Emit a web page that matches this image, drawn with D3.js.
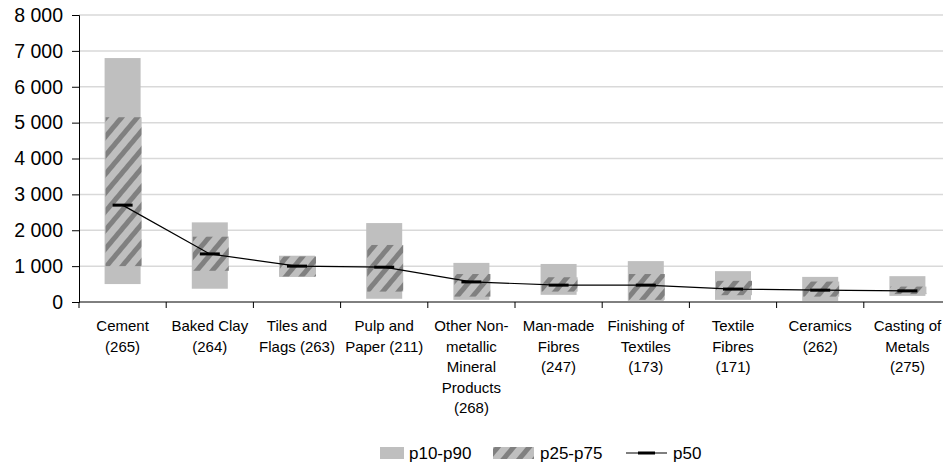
<!DOCTYPE html>
<html>
<head>
  <meta charset='utf-8'/>
  <style>
body { margin: 0; background: #fff; }
text { font-family: "Liberation Sans", Arial, sans-serif; fill: #000; }
.grid line { stroke: #d9d9d9; stroke-width: 1.5px; }
.axis path, .axis line { stroke: #000; }
  </style>
  <script src="https://d3js.org/d3.v7.min.js"></script>
</head>
<body>
<svg width="943" height="468"></svg>
<script>

// category labels, one entry per wrapped line
var categories = [
  ["Cement", "(265)"],
  ["Baked Clay", "(264)"],
  ["Tiles and", "Flags (263)"],
  ["Pulp and", "Paper (211)"],
  ["Other Non-", "metallic", "Mineral", "Products", "(268)"],
  ["Man-made", "Fibres", "(247)"],
  ["Finishing of", "Textiles", "(173)"],
  ["Textile", "Fibres", "(171)"],
  ["Ceramics", "(262)"],
  ["Casting of", "Metals", "(275)"]
];
var p10 = [500, 370, 700, 90, 60, 200, 30, 60, 30, 170];
var p25 = [1000, 870, 710, 290, 150, 290, 60, 190, 150, 220];
var p50 = [2700, 1340, 1000, 970, 560, 470, 470, 360, 330, 310];
var p75 = [5150, 1820, 1270, 1590, 780, 690, 780, 590, 570, 430];
var p90 = [6800, 2220, 1290, 2200, 1090, 1060, 1140, 860, 700, 720];
var yTicks = [0, 1000, 2000, 3000, 4000, 5000, 6000, 7000, 8000];

var svg = d3.select("svg"),
    margin = {top: 15, left: 79, bottom: 166},
    bandW = 87.2,
    width = bandW * categories.length,
    height = 468 - margin.top - margin.bottom,
    g = svg.append("g").attr("transform", "translate(" + margin.left + "," + margin.top + ")");

var light = "#bfbfbf", dark = "#808080";

var defs = svg.append("defs");
var pat = defs.append("pattern")
    .attr("id", "hatch")
    .attr("patternUnits", "userSpaceOnUse")
    .attr("width", 12).attr("height", 12)
    .attr("patternTransform", "rotate(40)");
pat.append("rect").attr("width", 12).attr("height", 12).attr("fill", light);
pat.append("rect").attr("width", 5).attr("height", 12).attr("fill", dark);

var idx = d3.range(categories.length);

var x = d3.scaleBand()
    .domain(idx)
    .range([0, width]);

var y = d3.scaleLinear()
    .domain([0, 8000])
    .range([height, 0]);

var fmt = function(d) { return d3.format(",")(d).replace(/,/g, " "); };

// gridlines
g.append("g").attr("class", "grid")
  .selectAll("line")
  .data(yTicks.filter(function(d) { return d > 0; }))
  .enter().append("line")
    .attr("x1", 0).attr("x2", width)
    .attr("y1", function(d) { return y(d); })
    .attr("y2", function(d) { return y(d); });

var barW = 36;

// p10-p90
g.selectAll(".outer")
  .data(idx)
  .enter().append("rect")
    .attr("class", "outer")
    .attr("x", function(i) { return x(i) + x.bandwidth() / 2 - barW / 2; })
    .attr("width", barW)
    .attr("y", function(i) { return y(p90[i]); })
    .attr("height", function(i) { return y(p10[i]) - y(p90[i]); })
    .attr("fill", light);

// p25-p75
g.selectAll(".inner")
  .data(idx)
  .enter().append("rect")
    .attr("class", "inner")
    .attr("x", function(i) { return x(i) + x.bandwidth() / 2 - barW / 2 + 1; })
    .attr("width", barW)
    .attr("y", function(i) { return y(p75[i]); })
    .attr("height", function(i) { return y(p25[i]) - y(p75[i]); })
    .attr("fill", "url(#hatch)");

// p50 line
var line = d3.line()
    .x(function(i) { return x(i) + x.bandwidth() / 2; })
    .y(function(i) { return y(p50[i]); });

g.append("path")
    .datum(idx)
    .attr("d", line)
    .attr("fill", "none")
    .attr("stroke", "#000")
    .attr("stroke-width", 1.2);

g.selectAll(".med")
  .data(idx)
  .enter().append("rect")
    .attr("class", "med")
    .attr("x", function(i) { return x(i) + x.bandwidth() / 2 - 10; })
    .attr("y", function(i) { return y(p50[i]) - 1.5; })
    .attr("width", 20).attr("height", 3)
    .attr("fill", "#000");

// y axis
var yAxis = g.append("g").attr("class", "axis")
    .call(d3.axisLeft(y).tickValues(yTicks).tickFormat(fmt).tickSize(7).tickPadding(9));
yAxis.selectAll("text").style("font-size", "19.5px");

// x axis
var xAxis = g.append("g").attr("class", "axis")
    .attr("transform", "translate(0," + height + ")");
xAxis.append("line")
    .attr("x1", 0).attr("x2", width).attr("stroke", "#000");
xAxis.selectAll(".tk")
  .data(d3.range(categories.length + 1))
  .enter().append("line")
    .attr("class", "tk")
    .attr("x1", function(i) { return i * x.step(); })
    .attr("x2", function(i) { return i * x.step(); })
    .attr("y1", 0).attr("y2", 6)
    .attr("stroke", "#000");

var lbl = xAxis.selectAll(".lbl")
  .data(idx)
  .enter().append("text")
    .attr("class", "lbl")
    .attr("text-anchor", "middle")
    .attr("transform", function(i) { return "translate(" + (x(i) + x.bandwidth() / 2) + ",29)"; })
    .style("font-size", "15px");
lbl.selectAll("tspan")
  .data(function(i) { return categories[i]; })
  .enter().append("tspan")
    .attr("x", 0)
    .attr("y", function(d, k) { return k * 20.6; })
    .text(function(d) { return d; });

// legend
var leg = svg.append("g").attr("transform", "translate(380,453)");
leg.append("rect").attr("x", 0).attr("y", -6).attr("width", 24).attr("height", 12).attr("fill", light);
leg.append("text").attr("x", 29).attr("y", 6).style("font-size", "17px").text("p10-p90");
leg.append("rect").attr("x", 113).attr("y", -6).attr("width", 41).attr("height", 12).attr("fill", "url(#hatch)");
leg.append("text").attr("x", 160).attr("y", 6).style("font-size", "17px").text("p25-p75");
leg.append("line").attr("x1", 246).attr("x2", 287).attr("y1", 0).attr("y2", 0).attr("stroke", "#000").attr("stroke-width", 1.2);
leg.append("rect").attr("x", 258).attr("y", -1.5).attr("width", 17).attr("height", 3).attr("fill", "#000");
leg.append("text").attr("x", 293).attr("y", 6).style("font-size", "17px").text("p50");

</script>
</body>
</html>
